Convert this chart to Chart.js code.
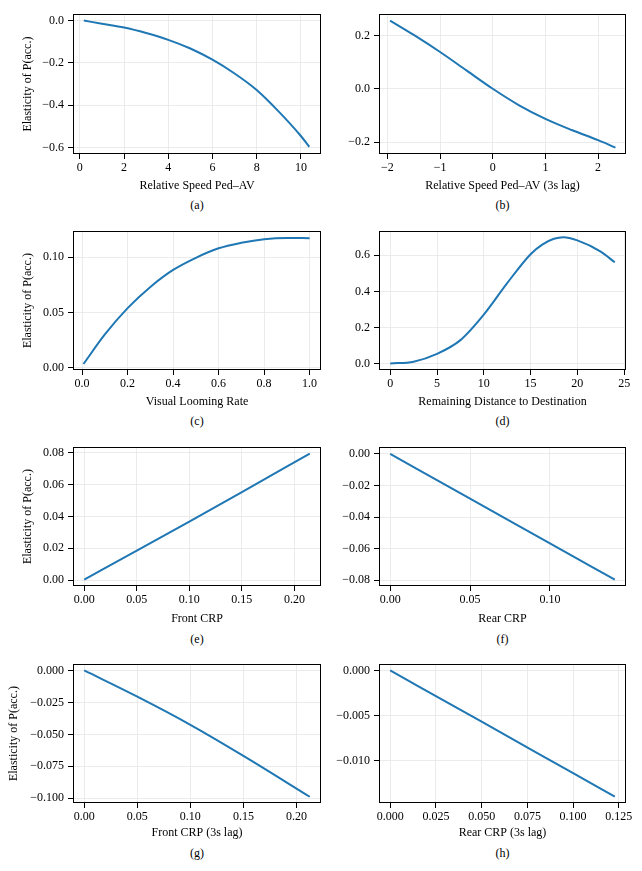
<!DOCTYPE html>
<html>
<head>
<meta charset="utf-8">
<script src="https://cdn.jsdelivr.net/npm/chart.js@4.4.1/dist/chart.umd.min.js"></script>
<style>
  body { margin: 0; background: #fff; }
  #fig { position: relative; width: 642px; height: 871px; }
  canvas { position: absolute; }
  .cap { position: absolute; width: 60px; margin-left: -30px; text-align: center;
         font: 12px 'Liberation Serif', serif; line-height: 14px; color: #000; }
</style>
</head>
<body>
<div id="fig"></div>
<script>
// (a) relative speed
var speedX = [0.18, 1, 2, 3, 4, 5, 6, 7, 8, 9, 10, 10.38];
var speedY = [0.0, -0.015, -0.033, -0.059, -0.091, -0.132, -0.185, -0.25, -0.328, -0.43, -0.545, -0.596];
var speedXTicks = [0, 2, 4, 6, 8, 10];
var speedYTicks = [-0.6, -0.4, -0.2, 0.0];

// (b) relative speed, 3s lag
var lagSpeedX = [-1.95, -1.5, -1, -0.5, 0, 0.5, 1, 1.5, 2, 2.33];
var lagSpeedY = [0.256, 0.202, 0.138, 0.069, 0.0, -0.062, -0.113, -0.155, -0.193, -0.221];
var lagSpeedXTicks = [-2, -1, 0, 1, 2];
var lagSpeedYTicks = [-0.2, 0.0, 0.2];

// (c) visual looming rate
var loomX = [0.006, 0.1, 0.2, 0.3, 0.4, 0.5, 0.6, 0.7, 0.8, 0.9, 1.0];
var loomY = [0.0032, 0.030, 0.0538, 0.073, 0.0884, 0.0994, 0.108, 0.113, 0.1163, 0.1174, 0.1172];
var loomXTicks = [0.0, 0.2, 0.4, 0.6, 0.8, 1.0];
var loomYTicks = [0.00, 0.05, 0.10];

// (d) remaining distance
var distX = [0, 2.5, 5, 7.5, 10, 12.5, 15, 16.25, 17.5, 18.5, 20, 22.5, 24];
var distY = [0.002, 0.012, 0.055, 0.131, 0.272, 0.446, 0.606, 0.659, 0.691, 0.70, 0.682, 0.62, 0.561];
var distXTicks = [0, 5, 10, 15, 20, 25];
var distYTicks = [0.0, 0.2, 0.4, 0.6];

// (e) front CRP
var frontX = [0, 0.05, 0.1, 0.15, 0.2146];
var frontY = [0.0003, 0.0185, 0.0368, 0.0553, 0.0795];
var frontXTicks = [0.00, 0.05, 0.10, 0.15, 0.20];
var frontYTicks = [0.00, 0.02, 0.04, 0.06, 0.08];

// (f) rear CRP
var rearX = [0, 0.05, 0.1, 0.1406];
var rearY = [0.0, -0.0283, -0.0567, -0.0797];
var rearXTicks = [0.00, 0.05, 0.10];
var rearYTicks = [-0.08, -0.06, -0.04, -0.02, 0.00];

// (g) front CRP, 3s lag
var lagFrontX = [0, 0.05, 0.1, 0.15, 0.2125];
var lagFrontY = [0.0, -0.0205, -0.0425, -0.0668, -0.0988];
var lagFrontXTicks = [0.00, 0.05, 0.10, 0.15, 0.20];
var lagFrontYTicks = [-0.100, -0.075, -0.050, -0.025, 0.000];

// (h) rear CRP, 3s lag
var lagRearX = [0, 0.05, 0.1, 0.1228];
var lagRearY = [0.0, -0.0057, -0.01143, -0.01404];
var lagRearXTicks = [0.000, 0.025, 0.050, 0.075, 0.100, 0.125];
var lagRearYTicks = [-0.010, -0.005, 0.000];

var yLabel = 'Elasticity of P(acc.)';

var FONT = { family: "'Liberation Serif', serif", size: 12 };

// pixel boxes of each plot area: L, T, R, B
var panels = [
  { cap: '(a)', xs: speedX, ys: speedY, xt: speedXTicks, yt: speedYTicks, xd: 0, yd: 1,
    xr: [-0.31, 10.91], yr: [-0.63, 0.03], xlab: 'Relative Speed Ped\u2013AV', ylab: true,
    cl: 0, cr: 330, box: [73, 9, 321, 154], xTitleY: 186, capY: 205, yTitleX: 28 },
  { cap: '(b)', xs: lagSpeedX, ys: lagSpeedY, xt: lagSpeedXTicks, yt: lagSpeedYTicks, xd: 0, yd: 1,
    xr: [-2.16, 2.53], yr: [-0.245, 0.28], xlab: 'Relative Speed Ped\u2013AV (3s lag)', ylab: false,
    cl: 330, cr: 642, box: [379, 9, 626, 154], xTitleY: 186, capY: 205 },
  { cap: '(c)', xs: loomX, ys: loomY, xt: loomXTicks, yt: loomYTicks, xd: 1, yd: 2,
    xr: [-0.04, 1.05], yr: [-0.0022, 0.1235], xlab: 'Visual Looming Rate', ylab: true,
    cl: 0, cr: 330, box: [73, 226, 321, 370], xTitleY: 402, capY: 421, yTitleX: 28 },
  { cap: '(d)', xs: distX, ys: distY, xt: distXTicks, yt: distYTicks, xd: 0, yd: 1,
    xr: [-1.2, 25.2], yr: [-0.034, 0.733], xlab: 'Remaining Distance to Destination', ylab: false,
    cl: 330, cr: 642, box: [379, 226, 626, 370], xTitleY: 402, capY: 421 },
  { cap: '(e)', xs: frontX, ys: frontY, xt: frontXTicks, yt: frontYTicks, xd: 2, yd: 2,
    xr: [-0.0107, 0.2253], yr: [-0.0037, 0.0835], xlab: 'Front CRP', ylab: true,
    cl: 0, cr: 330, box: [73, 442, 321, 586], xTitleY: 619, capY: 639, yTitleX: 28 },
  { cap: '(f)', xs: rearX, ys: rearY, xt: rearXTicks, yt: rearYTicks, xd: 2, yd: 2,
    xr: [-0.007, 0.1476], yr: [-0.0837, 0.0043], xlab: 'Rear CRP', ylab: false,
    cl: 330, cr: 642, box: [379, 442, 626, 586], xTitleY: 619, capY: 639 },
  { cap: '(g)', xs: lagFrontX, ys: lagFrontY, xt: lagFrontXTicks, yt: lagFrontYTicks, xd: 2, yd: 3,
    xr: [-0.0106, 0.2231], yr: [-0.1037, 0.0049], xlab: 'Front CRP (3s lag)', ylab: true,
    cl: 0, cr: 330, box: [73, 659, 321, 803], xTitleY: 833, capY: 853, yTitleX: 14 },
  { cap: '(h)', xs: lagRearX, ys: lagRearY, xt: lagRearXTicks, yt: lagRearYTicks, xd: 3, yd: 3,
    xr: [-0.0061, 0.1289], yr: [-0.01474, 0.0007], xlab: 'Rear CRP (3s lag)', ylab: false,
    cl: 330, cr: 642, box: [379, 659, 626, 803], xTitleY: 833, capY: 853 }
];

function fmt(v, d) {
  var s = v.toFixed(d);
  if (Number(s) === 0) s = (0).toFixed(d);
  return s.replace('-', '\u2212');
}

// full black box round the plot area, like matplotlib spines
var framePlugin = {
  id: 'frame',
  afterDraw: function(chart) {
    var a = chart.chartArea, ctx = chart.ctx;
    ctx.save();
    ctx.strokeStyle = '#000';
    ctx.lineWidth = 1;
    var l = Math.round(a.left) + 0.5, t = Math.round(a.top) + 0.5;
    var r = Math.round(a.right) - 0.5, b = Math.round(a.bottom) - 0.5;
    ctx.strokeRect(l, t, r - l, b - t);
    ctx.restore();
  }
};

var fig = document.getElementById('fig');

panels.forEach(function(p) {
  var L = p.box[0], T = p.box[1], R = p.box[2], B = p.box[3];
  var ct = T - 6;
  var cb = Math.round(p.xTitleY + 7.2);
  var cw = p.cr - p.cl, ch = cb - ct;

  var cv = document.createElement('canvas');
  cv.width = cw; cv.height = ch;
  cv.style.left = p.cl + 'px'; cv.style.top = ct + 'px';
  fig.appendChild(cv);

  var cap = document.createElement('div');
  cap.className = 'cap';
  cap.textContent = p.cap;
  cap.style.left = ((L + R) / 2) + 'px';
  cap.style.top = (p.capY - 7) + 'px';
  fig.appendChild(cap);

  var pts = p.xs.map(function(x, i) { return { x: x, y: p.ys[i] }; });

  var gridOpts = { color: '#e6e6e6', lineWidth: 0.8, drawTicks: true, tickLength: 5,
                   tickColor: '#000', tickWidth: 1 };

  new Chart(cv.getContext('2d'), {
    type: 'line',
    data: {
      datasets: [{
        data: pts,
        borderColor: '#1f77b4',
        borderWidth: 2,
        pointRadius: 0,
        fill: false,
        cubicInterpolationMode: 'monotone'
      }]
    },
    options: {
      responsive: false,
      animation: false,
      events: [],
      layout: { padding: { left: 0, top: T - ct, right: p.cr - R, bottom: 0 } },
      plugins: { legend: { display: false }, tooltip: { enabled: false } },
      scales: {
        x: {
          type: 'linear',
          min: p.xr[0], max: p.xr[1],
          afterBuildTicks: function(s) { s.ticks = p.xt.map(function(v) { return { value: v }; }); },
          afterFit: function(s) { s.height = cb - B; },
          grid: gridOpts,
          border: { display: false },
          ticks: { font: FONT, color: '#000', padding: 2, maxRotation: 0, autoSkip: false,
                   callback: function(v) { return fmt(v, p.xd); } },
          title: { display: true, text: p.xlab, font: FONT, color: '#000', padding: 0 }
        },
        y: {
          type: 'linear',
          min: p.yr[0], max: p.yr[1],
          afterBuildTicks: function(s) { s.ticks = p.yt.map(function(v) { return { value: v }; }); },
          afterFit: function(s) { s.width = L - p.cl; },
          grid: gridOpts,
          border: { display: false },
          ticks: { font: FONT, color: '#000', padding: 4, autoSkip: false,
                   callback: function(v) { return fmt(v, p.yd); } },
          title: { display: p.ylab, text: yLabel, font: FONT, color: '#000',
                   padding: { top: p.ylab ? p.yTitleX - p.cl - 7.2 : 0, bottom: 0 } }
        }
      }
    },
    plugins: [framePlugin]
  });
});
</script>
</body>
</html>
